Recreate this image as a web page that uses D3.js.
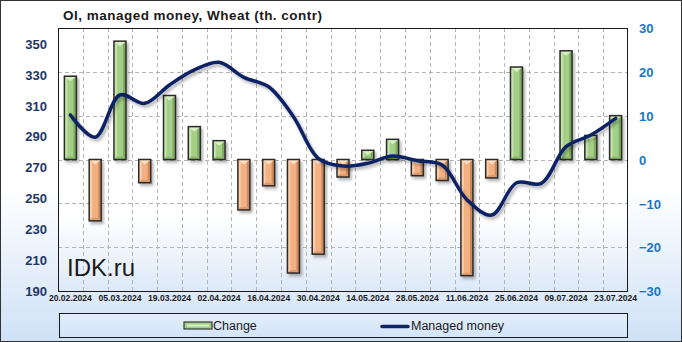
<!DOCTYPE html>
<html><head><meta charset="utf-8">
<script src="https://cdn.jsdelivr.net/npm/d3@7/dist/d3.min.js"></script>
<style>html,body{margin:0;padding:0;background:#fff}svg{display:block}</style>
</head><body><svg id="c" width="682" height="342"></svg>
<script>
const dates = ["20.02.2024","27.02.2024","05.03.2024","12.03.2024","19.03.2024","26.03.2024","02.04.2024","09.04.2024","16.04.2024","23.04.2024","30.04.2024","07.05.2024","14.05.2024","21.05.2024","28.05.2024","04.06.2024","11.06.2024","18.06.2024","25.06.2024","02.07.2024","09.07.2024","16.07.2024","23.07.2024"];
const change = [19, -14, 27, -5.3, 14.6, 7.5, 4.3, -11.5, -6, -25.9, -21.6, -4.0, 2.1, 4.6, -3.7, -4.8, -26.5, -4.2, 21.1, 0, 24.8, 5.5, 10.0];
const managedMoney = [303.8, 289.4, 316.7, 311.3, 323.2, 332.9, 337.8, 328.1, 322, 302.7, 275.8, 270.8, 272.5, 277.3, 274.2, 271.4, 249, 239.1, 260, 259.6, 283.3, 290.8, 301.6];
const leftTicks = [190, 210, 230, 250, 270, 290, 310, 330, 350];
const rightTicks = [-30, -20, -10, 0, 10, 20, 30];
const title = "OI, managed money, Wheat (th. contr)";
const seriesNames = ["Change", "Managed money"];

const W = 682, H = 342;
const P = {l: 58, r: 628, t: 28, b: 291};
const svg = d3.select("#c");
const defs = svg.append("defs");

function vgrad(id, stops) {
  const g = defs.append("linearGradient").attr("id", id).attr("x1", 0).attr("y1", 0).attr("x2", 0).attr("y2", 1);
  stops.forEach(s => g.append("stop").attr("offset", s[0]).attr("stop-color", s[1]));
}
vgrad("bgOuter", [[0, "#ffffff"], [0.55, "#ffffff"], [1, "#cfe1f6"]]);
vgrad("bgPlot", [[0, "#ffffff"], [0.72, "#ffffff"], [1, "#dde9f8"]]);
vgrad("bgLegend", [[0, "#e3eefb"], [1, "#d3e4f7"]]);
const sh = defs.append("filter").attr("id", "shadow").attr("x", "-20%").attr("y", "-20%").attr("width", "150%").attr("height", "150%");
sh.append("feDropShadow").attr("dx", 2).attr("dy", 2.5).attr("stdDeviation", 1.4).attr("flood-color", "#000").attr("flood-opacity", 0.3);

svg.append("rect").attr("x", 0.5).attr("y", 0.5).attr("width", W - 1).attr("height", H - 1)
  .attr("fill", "url(#bgOuter)").attr("stroke", "#333").attr("stroke-width", 1);

svg.append("text").attr("x", 63).attr("y", 20).attr("font-family", "Liberation Sans, Arial, sans-serif")
  .attr("font-weight", "bold").attr("font-size", 13.5).attr("fill", "#1a1a1a")
  .attr("textLength", 259).attr("lengthAdjust", "spacing").text(title);

svg.append("rect").attr("x", P.l).attr("y", P.t).attr("width", P.r - P.l).attr("height", P.b - P.t)
  .attr("fill", "url(#bgPlot)");

const x = d3.scaleBand().domain(dates).range([P.l, P.r]).paddingInner(0).paddingOuter(0);
const yL = d3.scaleLinear().domain([190, 360]).range([P.b, P.t]);
const yR = d3.scaleLinear().domain([-30, 30]).range([P.b, P.t]);

// grid
const grid = svg.append("g").attr("stroke", "#b5b5b5").attr("stroke-dasharray", "4,3").attr("stroke-width", 1);
dates.slice(1).forEach(d => {
  const gx = Math.round(x(d)) + 0.5;
  grid.append("line").attr("x1", gx).attr("x2", gx).attr("y1", P.t).attr("y2", P.b);
});
rightTicks.filter(t => t > -30 && t < 30).forEach(t => {
  const gy = Math.round(yR(t)) + 0.5;
  grid.append("line").attr("x1", P.l).attr("x2", P.r).attr("y1", gy).attr("y2", gy);
});

svg.append("text").attr("x", 67).attr("y", 276).attr("font-family", "Liberation Sans, Arial, sans-serif")
  .attr("font-size", 24).attr("fill", "#1a1a1a").text("IDK.ru");

// bars
const bw = 12;
const colors = {
  pos: {main: "#a4cf87", light: "#c4e3ac", dark: "#7eab61", tri: "#d8f0c4", bot: "#8dbb70"},
  neg: {main: "#f2b083", light: "#f9cda7", dark: "#cf8a5b", tri: "#fde0c6", bot: "#dd9a6b"}
};
const barsG = svg.append("g");
dates.forEach((d, i) => {
  const v = change[i];
  if (v === 0) return;
  const c = v > 0 ? colors.pos : colors.neg;
  const cx = x(d) + x.bandwidth() / 2;
  const x0 = cx - bw / 2, x1 = cx + bw / 2;
  const y0 = Math.min(yR(0), yR(v)), y1 = Math.max(yR(0), yR(v));
  const g = barsG.append("g").attr("filter", "url(#shadow)");
  g.append("rect").attr("x", x0).attr("y", y0).attr("width", bw).attr("height", y1 - y0).attr("fill", c.main);
  const b = Math.min(3, (y1 - y0) / 2);
  g.append("polygon").attr("points", [[x0, y0], [x0 + b, y0 + b], [x0 + b, y1 - b], [x0, y1]].join(" ")).attr("fill", c.light);
  g.append("polygon").attr("points", [[x1, y0], [x1 - b, y0 + b], [x1 - b, y1 - b], [x1, y1]].join(" ")).attr("fill", c.dark);
  g.append("polygon").attr("points", [[x0, y1], [x0 + b, y1 - b], [x1 - b, y1 - b], [x1, y1]].join(" ")).attr("fill", c.bot);
  const th = Math.min(5, (y1 - y0) * 0.6);
  g.append("polygon").attr("points", [[x0, y0], [x1, y0], [cx, y0 + th]].join(" ")).attr("fill", c.tri);
  g.append("rect").attr("x", x0).attr("y", y0).attr("width", bw).attr("height", y1 - y0)
    .attr("fill", "none").attr("stroke", "#2b2b2b").attr("stroke-width", 1.5);
});

// line
const line = d3.line().x((d, i) => x(dates[i]) + x.bandwidth() / 2).y(d => yL(d)).curve(d3.curveCatmullRom.alpha(0.5));
svg.append("path").datum(managedMoney).attr("d", line).attr("fill", "none")
  .attr("stroke", "#0b2466").attr("stroke-width", 3.5).attr("stroke-linejoin", "round").attr("stroke-linecap", "round")
  .attr("filter", "url(#shadow)");

// plot border
svg.append("rect").attr("x", P.l + 0.5).attr("y", P.t + 0.5).attr("width", P.r - P.l - 1).attr("height", P.b - P.t)
  .attr("fill", "none").attr("stroke", "#1a1a1a").attr("stroke-width", 1);

// axes
const font = "Liberation Sans, Arial, sans-serif";
const axL = svg.append("g").attr("transform", `translate(${P.l - 11},0)`)
  .call(d3.axisLeft(yL).tickValues(leftTicks).tickSize(0).tickPadding(0).tickFormat(d3.format("d")));
axL.select(".domain").remove();
axL.selectAll("text").attr("font-family", font).attr("font-weight", "bold").attr("font-size", 13).attr("fill", "#1c3768").attr("dy", "0.36em");

const axR = svg.append("g").attr("transform", `translate(${P.r + 11},0)`)
  .call(d3.axisRight(yR).tickValues(rightTicks).tickSize(0).tickPadding(0).tickFormat(d3.format("d")));
axR.select(".domain").remove();
axR.selectAll("text").attr("font-family", font).attr("font-weight", "bold").attr("font-size", 13).attr("fill", "#1b76c6").attr("dy", "0.36em");

const axB = svg.append("g").attr("transform", `translate(0,${P.b + 2})`)
  .call(d3.axisBottom(x).tickValues(dates.filter((d, i) => i % 2 === 0)).tickSize(0).tickPadding(0));
axB.select(".domain").remove();
axB.selectAll("text").attr("font-family", font).attr("font-weight", "bold").attr("font-size", 8.6).attr("fill", "#1a1a1a").attr("dy", "0.95em");

// legend
svg.append("rect").attr("x", 59.5).attr("y", 313.5).attr("width", 568).attr("height", 24)
  .attr("fill", "url(#bgLegend)").attr("stroke", "#1a1a1a").attr("stroke-width", 1);
const lg = svg.append("g");
const sw = lg.append("g");
sw.append("rect").attr("x", 184).attr("y", 322).attr("width", 28).attr("height", 7).attr("fill", colors.pos.main).attr("stroke", "#3a3a3a").attr("stroke-width", 1.2);
sw.append("rect").attr("x", 187).attr("y", 324.5).attr("width", 22).attr("height", 2).attr("fill", colors.pos.tri);
lg.append("text").attr("x", 213).attr("y", 330).attr("font-family", font).attr("font-size", 12.5).attr("fill", "#1a1a1a").text(seriesNames[0]);
lg.append("line").attr("x1", 382).attr("x2", 408).attr("y1", 326.5).attr("y2", 326.5).attr("stroke", "#0b2466").attr("stroke-width", 3.5).attr("stroke-linecap", "round");
lg.append("text").attr("x", 411).attr("y", 330).attr("font-family", font).attr("font-size", 12.5).attr("fill", "#1a1a1a").text(seriesNames[1]);
</script></body></html>
